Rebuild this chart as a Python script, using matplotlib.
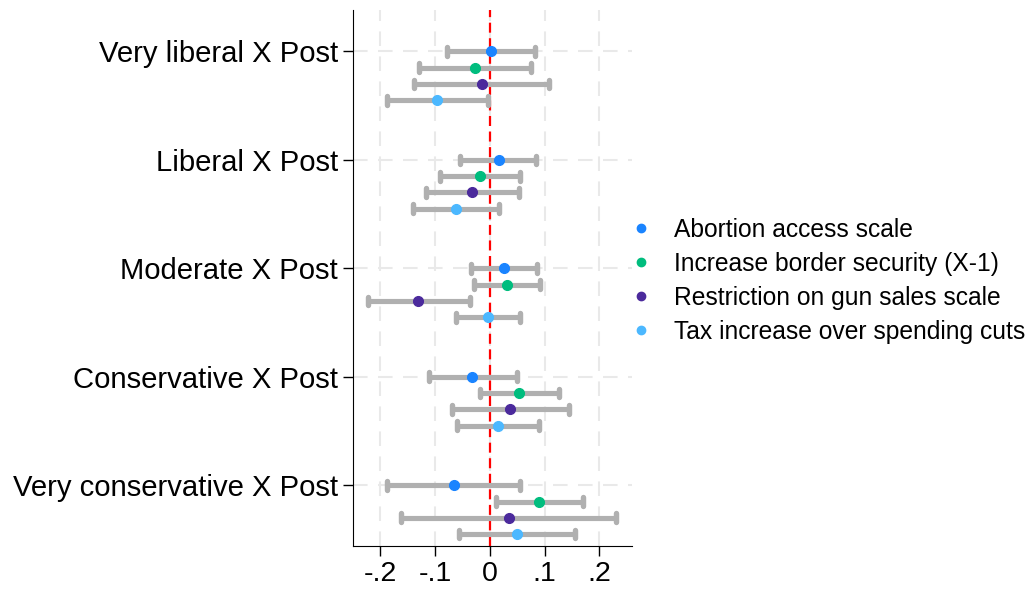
import numpy as np
import matplotlib
matplotlib.use("Agg")
import matplotlib.pyplot as plt
from matplotlib.lines import Line2D

plt.rcParams["font.family"] = ["Liberation Sans", "DejaVu Sans"]

# Categorias (de cima para baixo)
categories = ["Very liberal X Post", "Liberal X Post", "Moderate X Post",
              "Conservative X Post", "Very conservative X Post"]

series = ["Abortion access scale", "Increase border security (X-1)",
          "Restriction on gun sales scale", "Tax increase over spending cuts"]
colors = ["#1a84ff", "#00bd7e", "#4b2a9c", "#4cb8ff"]

# Estimativas e intervalos (linhas = categorias, colunas = séries)
est = [[0.003, -0.027, -0.014, -0.096],
       [0.016, -0.018, -0.032, -0.062],
       [0.025, 0.031, -0.131, -0.004],
       [-0.032, 0.054, 0.036, 0.015],
       [-0.066, 0.090, 0.035, 0.049]]
lo = [[-0.078, -0.130, -0.138, -0.188],
      [-0.054, -0.091, -0.117, -0.140],
      [-0.034, -0.029, -0.223, -0.062],
      [-0.112, -0.018, -0.070, -0.060],
      [-0.189, 0.011, -0.163, -0.057]]
hi = [[0.082, 0.076, 0.109, -0.003],
      [0.084, 0.055, 0.054, 0.017],
      [0.086, 0.092, -0.037, 0.055],
      [0.049, 0.126, 0.144, 0.089],
      [0.055, 0.170, 0.230, 0.155]]

xticks = [-0.2, -0.1, 0, 0.1, 0.2]
xticklabels = ["-.2", "-.1", "0", ".1", ".2"]

est = np.array(est)
lo = np.array(lo)
hi = np.array(hi)

fig = plt.figure(figsize=(10.31, 5.9), dpi=100)
ax = fig.add_axes([0.342, 0.0746, 0.271, 0.908])

base = np.arange(len(categories))
step = 0.15
cap = 0.04
bar_color = "#b0b0b0"

# grade
for xt in xticks:
    ax.axvline(xt, color="#e9e9e9", lw=1.5, dashes=(7, 5), zorder=0)
for yb in base:
    ax.axhline(yb, color="#e9e9e9", lw=1.5, dashes=(7, 5), zorder=0)

ax.axvline(0, color="#ff0000", lw=1.6, dashes=(4.5, 2.5), zorder=1)

for j, s in enumerate(series):
    y = base + j * step
    ax.hlines(y, lo[:, j], hi[:, j], color=bar_color, lw=3.7, zorder=2)
    ax.vlines(lo[:, j], y - cap, y + cap, color=bar_color, lw=3.9,
              capstyle="round", zorder=2)
    ax.vlines(hi[:, j], y - cap, y + cap, color=bar_color, lw=3.9,
              capstyle="round", zorder=2)
    ax.plot(est[:, j], y, "o", color=colors[j], ms=7, zorder=3)

ax.set_ylim(len(categories) - 1 + 0.56, -0.38)
ax.set_yticks(base)
ax.set_yticklabels(categories, fontsize=21.1)
ax.set_xlim(-0.251, 0.26)
ax.set_xticks(xticks)
ax.set_xticklabels(xticklabels, fontsize=20.5)
ax.tick_params(axis="both", length=7, width=1, color="black")
ax.tick_params(axis="x", pad=4)
ax.spines["top"].set_visible(False)
ax.spines["right"].set_visible(False)

handles = [Line2D([], [], marker="o", ls="", color=c, ms=6) for c in colors]
fig.legend(handles, series, loc="center left", bbox_to_anchor=(0.581, 0.524),
           frameon=False, fontsize=17.7, handletextpad=0.55, labelspacing=0.41,
           handlelength=1.6)

plt.savefig("out.png", dpi=100)
plt.close()
